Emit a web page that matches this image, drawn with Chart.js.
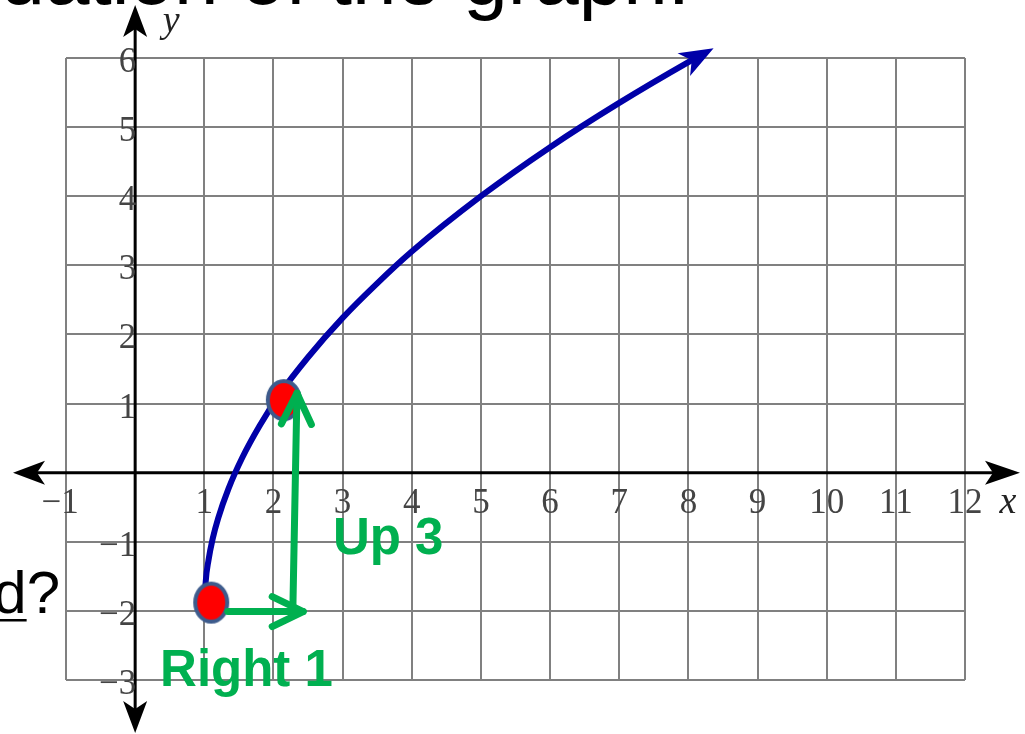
<!DOCTYPE html>
<html>
<head>
<meta charset="utf-8">
<title>Square root graph</title>
<script src="https://cdn.jsdelivr.net/npm/chart.js@4.4.0/dist/chart.umd.min.js"></script>
<style>
  html, body { margin: 0; padding: 0; background: #ffffff; overflow: hidden; }
  #wrap { position: relative; width: 1025px; height: 734px; }
</style>
</head>
<body>
<div id="wrap"><canvas id="graphChart"></canvas></div>
<script>
// values
const xTicks = [-1, 1, 2, 3, 4, 5, 6, 7, 8, 9, 10, 11, 12];
const yTicks = [6, 5, 4, 3, 2, 1, -1, -2, -3];

// the blue curve
const curveX = [1, 1.02, 1.06, 1.12, 1.2, 1.35, 1.55, 1.8, 2.1, 2.5, 3, 3.5, 4, 5, 6, 7, 8, 8.2];
const curveY = [-2, -1.58, -1.27, -0.96, -0.66, -0.23, 0.22, 0.68, 1.15, 1.67, 2.24, 2.74, 3.2, 4.0, 4.71, 5.35, 5.94, 6.05];

// red dots
const dotX = [1.1, 2.15];
const dotY = [-1.88, 1.05];

// green arrows
const rightX = [1.34, 2.43];
const rightY = [-2.01, -2.01];
const upX = [2.28, 2.34];
const upY = [-2.0, 1.15];

// green notes
const noteText = ['Up 3', 'Right 1'];
const noteX = [2.86, 0.36];
const noteY = [-1.18, -3.08];

const titleText = 'Write the equation of the graph.';
const sideText = 'd?';

function toPoints(xs, ys) {
  return xs.map((x, i) => ({ x: x, y: ys[i] }));
}

function minus(v) {
  return String(v).replace('-', '\u2212');
}

// red dot with blue rim, a bit taller than wide
function makeDot() {
  var c = document.createElement('canvas');
  c.width = 42;
  c.height = 48;
  var g = c.getContext('2d');
  g.beginPath();
  g.ellipse(21, 24, 16, 19, 0, 0, Math.PI * 2);
  g.fillStyle = '#ff0000';
  g.fill();
  g.lineWidth = 4;
  g.strokeStyle = '#3d5b8c';
  g.stroke();
  return c;
}

// filled arrow head with a notch at the back
function stealth(ctx, x, y, angle, len, half, notch, color) {
  ctx.save();
  ctx.translate(x, y);
  ctx.rotate(angle);
  ctx.beginPath();
  ctx.moveTo(0, 0);
  ctx.lineTo(-len, -half);
  ctx.lineTo(-len + notch, 0);
  ctx.lineTo(-len, half);
  ctx.closePath();
  ctx.fillStyle = color;
  ctx.fill();
  ctx.restore();
}

// open arrow head, two strokes
function chevron(ctx, x, y, angle, len, half, color, width) {
  ctx.save();
  ctx.translate(x, y);
  ctx.rotate(angle);
  ctx.beginPath();
  ctx.moveTo(-len, -half);
  ctx.lineTo(0, 0);
  ctx.lineTo(-len, half);
  ctx.strokeStyle = color;
  ctx.lineWidth = width;
  ctx.lineCap = 'round';
  ctx.lineJoin = 'round';
  ctx.stroke();
  ctx.restore();
}

const decorPlugin = {
  id: 'decor',
  beforeDatasetsDraw(chart) {
    const ctx = chart.ctx;
    const area = chart.chartArea;
    const xs = chart.scales.x;
    const ys = chart.scales.y;
    const x0 = xs.getPixelForValue(0);
    const y0 = ys.getPixelForValue(0);

    ctx.save();
    // slide text cut off by the frame
    ctx.fillStyle = '#000000';
    ctx.font = '80px "Liberation Sans", Arial, sans-serif';
    ctx.textAlign = 'right';
    ctx.textBaseline = 'alphabetic';
    ctx.fillText(titleText, 690, 4);

    ctx.font = '60px "Liberation Sans", Arial, sans-serif';
    ctx.fillText(sideText, 60, 613);
    var qW = ctx.measureText('?').width;
    var dW = ctx.measureText('d').width;
    ctx.fillRect(60 - qW - dW, 619, dW, 2.5);

    // axes
    ctx.strokeStyle = '#000000';
    ctx.lineWidth = 3;
    ctx.beginPath();
    ctx.moveTo(area.left - 43, y0);
    ctx.lineTo(area.right + 45, y0);
    ctx.moveTo(x0, area.top - 43);
    ctx.lineTo(x0, area.bottom + 43);
    ctx.stroke();
    stealth(ctx, area.right + 55, y0, 0, 35, 12, 8, '#000000');
    stealth(ctx, area.left - 53, y0, Math.PI, 32, 12, 8, '#000000');
    stealth(ctx, x0, area.top - 53, -Math.PI / 2, 32, 12, 8, '#000000');
    stealth(ctx, x0, area.bottom + 53, Math.PI / 2, 32, 12, 8, '#000000');

    // tick labels
    ctx.fillStyle = '#444444';
    ctx.font = '35px "Liberation Serif", "Times New Roman", serif';
    ctx.textBaseline = 'alphabetic';
    ctx.textAlign = 'center';
    xTicks.forEach(v => {
      var px = xs.getPixelForValue(v);
      var lbl = minus(v);
      if (v < 0) px -= ctx.measureText('\u2212').width / 2 - 4;
      ctx.fillText(lbl, px, y0 + 40);
    });
    ctx.textAlign = 'right';
    yTicks.forEach(v => {
      ctx.fillText(minus(v), x0 + 1, ys.getPixelForValue(v) + 14);
    });

    // axis names
    ctx.fillStyle = '#222222';
    ctx.font = 'italic 38px "Liberation Serif", "Times New Roman", serif';
    ctx.textAlign = 'center';
    ctx.fillText('x', area.right + 43, y0 + 40);
    ctx.fillText('y', x0 + 36, area.top - 26);
    ctx.restore();
  },
  afterDatasetsDraw(chart) {
    const ctx = chart.ctx;
    const xs = chart.scales.x;
    const ys = chart.scales.y;

    // blue head at the end of the curve
    const pts = chart.getDatasetMeta(2).data;
    const a = pts[pts.length - 2];
    const b = pts[pts.length - 1];
    const ang = Math.atan2(b.y - a.y, b.x - a.x);
    stealth(ctx, b.x + 13 * Math.cos(ang), b.y + 13 * Math.sin(ang), ang, 34, 13, 9, '#0000a8');

    // green open heads
    [0, 1].forEach(i => {
      const d = chart.getDatasetMeta(i).data;
      const p = d[d.length - 2];
      const q = d[d.length - 1];
      const an = Math.atan2(q.y - p.y, q.x - p.x);
      chevron(ctx, q.x, q.y, an, 31, 15, '#00b050', 7);
    });

    // green notes
    ctx.save();
    ctx.fillStyle = '#00b050';
    ctx.font = 'bold 51px "Liberation Sans", Arial, sans-serif';
    ctx.textAlign = 'left';
    ctx.textBaseline = 'alphabetic';
    noteText.forEach((t, i) => {
      ctx.fillText(t, xs.getPixelForValue(noteX[i]), ys.getPixelForValue(noteY[i]));
    });
    ctx.restore();
  }
};

function drawChart() {
  var ctx = document.getElementById('graphChart').getContext('2d');
  var graphChart = new Chart(ctx, {
    type: 'scatter',
    data: {
      datasets: [
        {
          label: 'Right 1',
          data: toPoints(rightX, rightY),
          showLine: true,
          borderColor: '#00b050',
          borderWidth: 7,
          borderCapStyle: 'round',
          pointRadius: 0,
          clip: false,
          order: 1
        },
        {
          label: 'Up 3',
          data: toPoints(upX, upY),
          showLine: true,
          borderColor: '#00b050',
          borderWidth: 7,
          borderCapStyle: 'round',
          pointRadius: 0,
          clip: false,
          order: 1
        },
        {
          label: 'curve',
          data: toPoints(curveX, curveY),
          showLine: true,
          borderColor: '#0000a8',
          borderWidth: 6,
          cubicInterpolationMode: 'monotone',
          pointRadius: 0,
          clip: false,
          order: 3
        },
        {
          label: 'points',
          data: toPoints(dotX, dotY),
          pointStyle: makeDot(),
          pointRadius: 18,
          clip: false,
          order: 2
        }
      ]
    },
    options: {
      responsive: true,
      maintainAspectRatio: false,
      animation: false,
      events: [],
      layout: { padding: { left: 66, right: 60, top: 58, bottom: 54 } },
      plugins: {
        legend: { display: false },
        tooltip: { enabled: false }
      },
      scales: {
        x: {
          type: 'linear',
          min: -1,
          max: 12,
          ticks: { display: false, stepSize: 1 },
          grid: { color: '#808080', lineWidth: 2, drawTicks: false },
          border: { display: false }
        },
        y: {
          type: 'linear',
          min: -3,
          max: 6,
          ticks: { display: false, stepSize: 1 },
          grid: { color: '#808080', lineWidth: 2, drawTicks: false },
          border: { display: false }
        }
      }
    },
    plugins: [decorPlugin]
  });
}

window.onload = drawChart;
</script>
</body>
</html>
